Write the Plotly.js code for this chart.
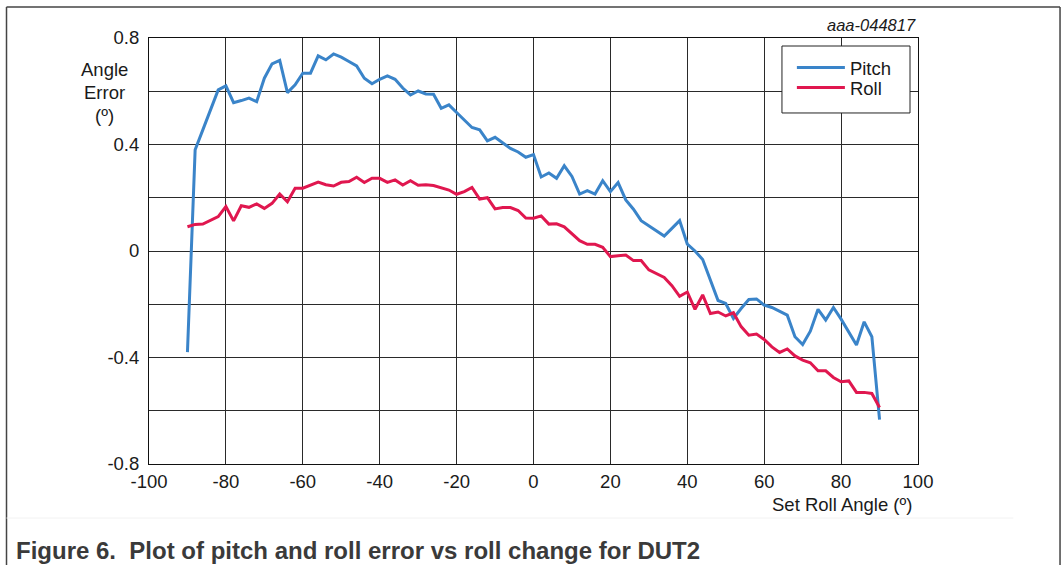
<!DOCTYPE html>
<html>
<head>
<meta charset="utf-8">
<script src="https://cdn.plot.ly/plotly-3.0.1.min.js"></script>
<style>html,body{margin:0;padding:0;background:#fff;}#chart{width:1063px;height:565px;}</style>
</head>
<body>
<div id="chart"></div>
<script>
const rollAngle = [-90,-88,-86,-84,-82,-80,-78,-76,-74,-72,-70,-68,-66,-64,-62,-60,-58,-56,-54,-52,-50,-48,-46,-44,-42,-40,-38,-36,-34,-32,-30,-28,-26,-24,-22,-20,-18,-16,-14,-12,-10,-8,-6,-4,-2,0,2,4,6,8,10,12,14,16,18,20,22,24,26,28,30,32,34,36,38,40,42,44,46,48,50,52,54,56,58,60,62,64,66,68,70,72,74,76,78,80,82,84,86,88,90];
const pitchError = [-0.38,0.38,0.455,0.53,0.605,0.62,0.557,0.565,0.574,0.561,0.649,0.703,0.716,0.595,0.624,0.668,0.668,0.733,0.718,0.74,0.728,0.712,0.695,0.649,0.628,0.645,0.658,0.645,0.612,0.586,0.601,0.59,0.589,0.536,0.549,0.52,0.49,0.464,0.455,0.414,0.427,0.407,0.385,0.372,0.352,0.362,0.278,0.293,0.273,0.32,0.28,0.214,0.227,0.214,0.264,0.223,0.257,0.192,0.157,0.114,0.094,0.076,0.056,0.085,0.114,0.026,0.0,-0.032,-0.109,-0.186,-0.197,-0.253,-0.216,-0.182,-0.18,-0.203,-0.212,-0.228,-0.241,-0.322,-0.351,-0.301,-0.219,-0.259,-0.212,-0.256,-0.303,-0.353,-0.266,-0.322,-0.633];
const rollError = [0.091,0.1,0.101,0.114,0.129,0.167,0.113,0.17,0.164,0.177,0.16,0.179,0.214,0.185,0.236,0.236,0.247,0.259,0.249,0.244,0.258,0.261,0.277,0.257,0.273,0.273,0.258,0.267,0.248,0.264,0.247,0.249,0.246,0.237,0.229,0.213,0.223,0.239,0.195,0.2,0.158,0.163,0.163,0.152,0.124,0.123,0.132,0.101,0.102,0.091,0.066,0.039,0.025,0.025,0.014,-0.021,-0.018,-0.015,-0.036,-0.036,-0.071,-0.084,-0.099,-0.13,-0.17,-0.154,-0.219,-0.165,-0.235,-0.229,-0.244,-0.232,-0.284,-0.316,-0.312,-0.332,-0.36,-0.381,-0.368,-0.394,-0.41,-0.42,-0.45,-0.45,-0.475,-0.491,-0.488,-0.531,-0.531,-0.535,-0.588];
const xTicks = [-100,-80,-60,-40,-20,0,20,40,60,80,100];
const yTicks = [-0.8,-0.4,0,0.4,0.8];
const yTickText = ['-0.8','-0.4','0','0.4','0.8'];

const FONT = 'Liberation Sans, Arial, sans-serif';
const FS = 18.5;
const traces = [
  {x: rollAngle, y: pitchError, name: 'Pitch', type: 'scatter', mode: 'lines',
   line: {color: '#3a84c9', width: 3}, legend: 'legend'},
  {x: rollAngle, y: rollError, name: 'Roll', type: 'scatter', mode: 'lines',
   line: {color: '#e0174f', width: 3}, legend: 'legend2'}
];
const gridCol = '#2a2a2a';
const legendBase = {x: 0.836, xanchor: 'left', yanchor: 'top',
    bgcolor: 'rgba(0,0,0,0)', borderwidth: 0, itemwidth: 48,
    font: {family: FONT, size: FS, color: '#1a1a1a'}};
const layout = {
  width: 1063, height: 565,
  margin: {l: 149, r: 145, t: 38, b: 101},
  paper_bgcolor: '#fff', plot_bgcolor: '#fff',
  font: {family: FONT, size: FS, color: '#1a1a1a'},
  showlegend: true,
  legend: Object.assign({}, legendBase, {y: 0.9742}),
  legend2: Object.assign({}, legendBase, {y: 0.9272}),
  xaxis: {range: [-100, 100], tickvals: xTicks, ticktext: xTicks.map(String),
    showgrid: true, gridcolor: gridCol, gridwidth: 1, zeroline: false,
    showline: true, linecolor: '#111', linewidth: 1, mirror: true,
    ticks: '', ticklabelstandoff: 1, tickfont: {family: FONT, size: FS, color: '#1a1a1a'}},
  yaxis: {range: [-0.8, 0.8], tickvals: yTicks, ticktext: yTickText,
    showgrid: true, gridcolor: gridCol, gridwidth: 1, zeroline: false,
    minor: {dtick: 0.2, showgrid: true, gridcolor: gridCol, gridwidth: 1, ticks: ''},
    showline: true, linecolor: '#111', linewidth: 1, mirror: true,
    ticks: '', ticklabelstandoff: 5, tickfont: {family: FONT, size: FS, color: '#1a1a1a'}},
  shapes: [
    {type: 'rect', xref: 'paper', yref: 'paper', x0: 0.8231, x1: 0.9896, y0: 0.824, y1: 0.9812, layer: 'above', fillcolor: '#fff', line: {color: '#222', width: 1}},
    {type: 'line', xref: 'paper', yref: 'paper', x0: -0.1853, x1: 1.1847, y0: 1.0728, y1: 1.0728, line: {color: '#444', width: 1.5}},
    {type: 'line', xref: 'paper', yref: 'paper', x0: -0.1853, x1: -0.1853, y0: 1.0728, y1: -0.24, line: {color: '#444', width: 1.5}},
    {type: 'line', xref: 'paper', yref: 'paper', x0: 1.1847, x1: 1.1847, y0: 1.0728, y1: -0.24, line: {color: '#444', width: 1.5}},
    {type: 'line', xref: 'paper', yref: 'paper', x0: -0.1853, x1: 1.124, y0: -0.1268, y1: -0.1268, line: {color: '#f2f2f2', width: 1}}
  ],
  annotations: [
    {text: 'Angle', xref: 'paper', yref: 'paper', x: -0.0585, y: 0.927, showarrow: false, xanchor: 'center', yanchor: 'middle', font: {size: FS}},
    {text: 'Error', xref: 'paper', yref: 'paper', x: -0.0585, y: 0.873, showarrow: false, xanchor: 'center', yanchor: 'middle', font: {size: FS}},
    {text: '(º)', xref: 'paper', yref: 'paper', x: -0.0585, y: 0.819, showarrow: false, xanchor: 'center', yanchor: 'middle', font: {size: FS}},
    {text: 'Set Roll Angle (º)', xref: 'paper', yref: 'paper', x: 0.9948, y: -0.0939, showarrow: false, xanchor: 'right', yanchor: 'middle', font: {size: FS}},
    {text: '<i>aaa-044817</i>', xref: 'paper', yref: 'paper', x: 1.0, y: 1.0305, showarrow: false, xanchor: 'right', yanchor: 'middle', font: {size: 16.5}},
    {text: '<b>Figure 6.  Plot of pitch and roll error vs roll change for DUT2</b>', xref: 'paper', yref: 'paper', x: -0.1756, y: -0.2019, showarrow: false, xanchor: 'left', yanchor: 'middle', font: {size: 24, color: '#3a3a3a'}}
  ]
};
Plotly.newPlot('chart', traces, layout, {displayModeBar: false, staticPlot: true});
</script>
</body>
</html>
